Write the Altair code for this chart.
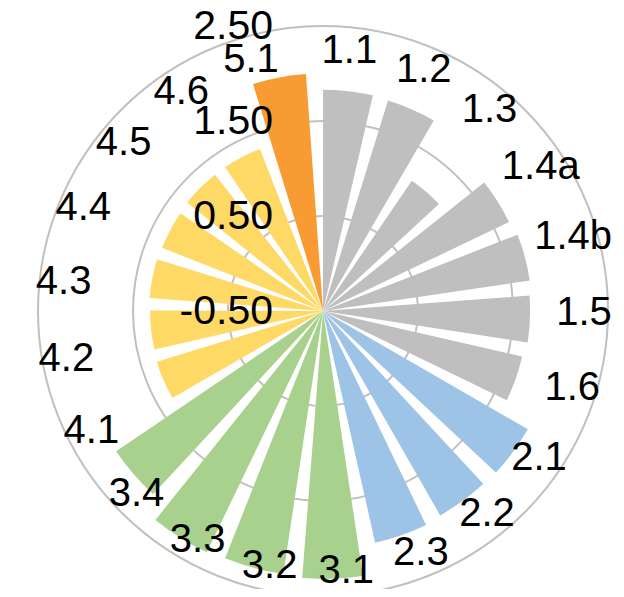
import math
import altair as alt
import pandas as pd

categories = ["1.1", "1.2", "1.3", "1.4a", "1.4b", "1.5", "1.6",
              "2.1", "2.2", "2.3",
              "3.1", "3.2", "3.3", "3.4",
              "4.1", "4.2", "4.3", "4.4", "4.5", "4.6",
              "5.1"]
values = [1.83, 1.82, 1.16, 1.67, 1.70, 1.68, 1.65,
          1.99, 1.98, 2.00,
          2.32, 2.30, 2.32, 2.13,
          1.33, 1.32, 1.33, 1.32, 1.33, 1.33,
          2.00]
group_names = ["1", "2", "3", "4", "5"]
group_colors = ["#BFBFBF", "#9DC3E6", "#A9D18E", "#FFD966", "#F99B33"]
radial_ticks = [-0.5, 0.5, 1.5, 2.5]

n = len(categories)
bar_frac = 0.76

bars = pd.DataFrame({
    "cat": categories,
    "value": values,
    "group": [c.split(".")[0] for c in categories],
    "start": list(range(n)),
    "end": [i + bar_frac for i in range(n)],
})
ticks = pd.DataFrame({"g": radial_ticks,
                      "lbl": [f"{t:.2f}" for t in radial_ticks]})
rings = ticks[ticks["g"] > radial_ticks[0]]

CX, CY = 315, 303
theta_scale = alt.Scale(domain=[0, n], range=[0, 2 * math.pi])
label_theta_scale = alt.Scale(domain=[0, n - 1],
                              range=[math.radians(5.8), math.radians(344)])
r_scale = alt.Scale(type="linear", domain=[radial_ticks[0], radial_ticks[-1]],
                    range=[0, 285], zero=False)
FONT = "Liberation Sans"

grid = alt.Chart(rings).mark_arc(
    fillOpacity=0, stroke="#C0C0C0", strokeWidth=2
).encode(
    theta=alt.value(0),
    theta2=alt.value(2 * math.pi),
    radius=alt.Radius("g:Q", stack=None, scale=r_scale),
    radius2=alt.value(0),
    x=alt.value(CX), y=alt.value(CY),
)

bar_layer = alt.Chart(bars).mark_arc(strokeWidth=0).encode(
    theta=alt.Theta("start:Q", stack=None, scale=theta_scale),
    theta2="end:Q",
    radius=alt.Radius("value:Q", stack=None, scale=r_scale),
    radius2=alt.value(0),
    color=alt.Color("group:N", scale=alt.Scale(domain=group_names, range=group_colors), legend=None),
    x=alt.value(CX), y=alt.value(CY),
)

tick_text = alt.Chart(ticks).mark_text(
    font=FONT, fontSize=41, align="right", baseline="middle", dx=-50, dy=1, color="black"
).encode(
    theta=alt.value(0),
    radius=alt.Radius("g:Q", stack=None, scale=r_scale),
    text="lbl:N",
    x=alt.value(CX), y=alt.value(CY),
)

cat_text = alt.Chart(bars).mark_text(
    font=FONT, fontSize=40, align="center", baseline="middle", radius=261, color="black"
).encode(
    theta=alt.Theta("start:Q", stack=None, scale=label_theta_scale),
    text="cat:N",
    x=alt.value(CX), y=alt.value(CY),
)

chart = alt.layer(grid, bar_layer, tick_text, cat_text).resolve_scale(
    theta="independent"
).properties(
    width=608, height=581, padding=0, autosize="none"
).configure_view(stroke=None)

chart.save("out.html", embed_options={"renderer": "svg", "actions": False})
